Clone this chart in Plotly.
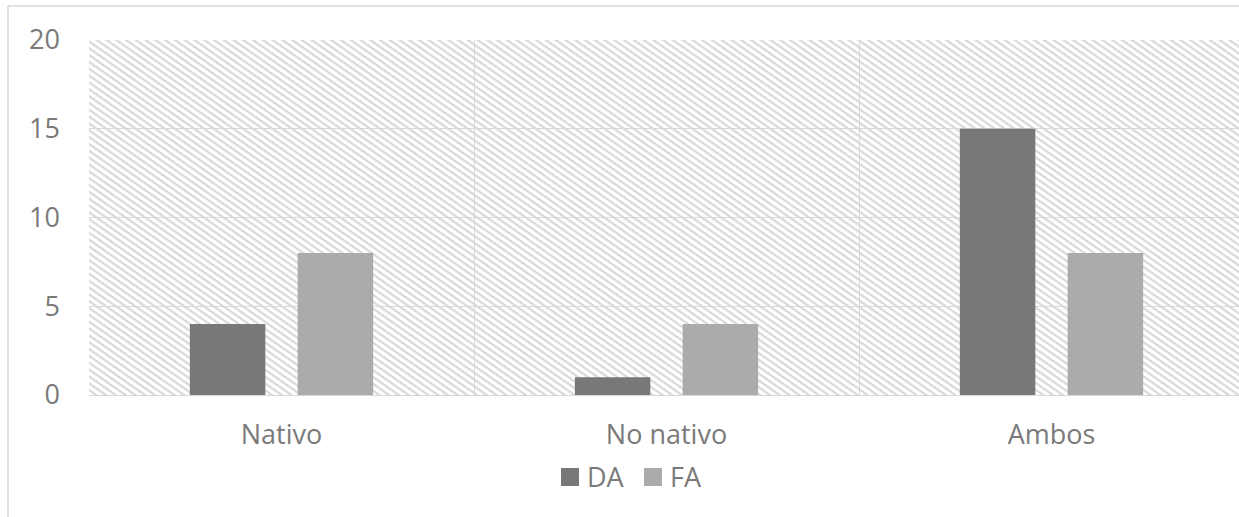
import base64
import plotly.graph_objects as go

# Data
categories = ["Nativo", "No nativo", "Ambos"]
series_names = ["DA", "FA"]
da_values = [4, 1, 15]
fa_values = [8, 4, 8]
y_ticks = [0, 5, 10, 15, 20]

colors = {"DA": "#787878", "FA": "#ababab"}
text_color = "#7a7a7a"
grid_color = "#d9d9d9"
font_family = "Open Sans, Noto Sans, sans-serif"

W, H = 1239, 517
ML, MT, MB = 89, 40, 122
plot_w = W - ML
plot_h = H - MT - MB

# Diagonal hatch used as the plot-area background
hatch_svg = (
    f'<svg xmlns="http://www.w3.org/2000/svg" width="{plot_w}" height="{plot_h}">'
    '<defs><pattern id="h" width="40" height="5.6" patternUnits="userSpaceOnUse" '
    'patternTransform="rotate(35)">'
    '<rect x="0" y="0" width="40" height="2.2" fill="#d8d8d8"/></pattern></defs>'
    '<rect width="100%" height="100%" fill="#ffffff"/>'
    '<rect width="100%" height="100%" fill="url(#h)"/></svg>'
)
hatch_uri = "data:image/svg+xml;base64," + base64.b64encode(hatch_svg.encode()).decode()

fig = go.Figure()
fig.add_trace(go.Bar(name="DA", x=categories, y=da_values,
                     marker=dict(color=colors["DA"], line=dict(width=0)),
                     showlegend=False))
fig.add_trace(go.Bar(name="FA", x=categories, y=fa_values,
                     marker=dict(color=colors["FA"], line=dict(width=0)),
                     showlegend=False))


def px_x(px):
    return (px - ML) / plot_w


def px_y(py):
    return (MT + plot_h - py) / plot_h


shapes = [
    # outer chart frame (top and left edges)
    dict(type="line", xref="paper", yref="paper", x0=px_x(8), x1=px_x(W + 5),
         y0=px_y(6), y1=px_y(6), line=dict(color=grid_color, width=1.5)),
    dict(type="line", xref="paper", yref="paper", x0=px_x(8), x1=px_x(8),
         y0=px_y(6), y1=px_y(H + 5), line=dict(color=grid_color, width=1.5)),
]
annotations = []

# Legend drawn as swatches + labels
legend_cy = 477
swatch = 18
legend_x = {"DA": 561, "FA": 644}
for name in series_names:
    x0 = legend_x[name]
    shapes.append(dict(type="rect", xref="paper", yref="paper",
                       x0=px_x(x0), x1=px_x(x0 + swatch),
                       y0=px_y(legend_cy - swatch / 2), y1=px_y(legend_cy + swatch / 2),
                       fillcolor=colors[name], line=dict(width=0)))
    annotations.append(dict(text=name, xref="paper", yref="paper",
                            x=px_x(x0 + swatch + 6), y=px_y(legend_cy),
                            xanchor="left", yanchor="middle", showarrow=False,
                            font=dict(size=27, color=text_color, family=font_family)))

fig.update_layout(
    width=W, height=H,
    margin=dict(l=ML, r=0, t=MT, b=MB, pad=0),
    paper_bgcolor="white", plot_bgcolor="white",
    barmode="group", bargap=0.44, bargroupgap=0.30,
    font=dict(family=font_family, size=27, color=text_color),
    showlegend=False,
    shapes=shapes, annotations=annotations,
    images=[dict(source=hatch_uri, xref="paper", yref="paper", x=0, y=1,
                 sizex=1, sizey=1, xanchor="left", yanchor="top",
                 sizing="stretch", layer="below")],
)
fig.update_xaxes(
    type="category", categoryorder="array", categoryarray=categories,
    range=[-0.5, 2.487], tickson="boundaries", showgrid=True,
    gridcolor=grid_color, gridwidth=1, ticks="", showline=False,
    ticklabelstandoff=21, tickfont=dict(size=27, color=text_color),
)
fig.update_yaxes(
    range=[0, 20], tickvals=y_ticks, showgrid=True, gridcolor=grid_color,
    gridwidth=1, zeroline=True, zerolinecolor=grid_color, zerolinewidth=1,
    showline=False, ticks="", ticklabelstandoff=28,
    tickfont=dict(size=27, color=text_color),
)

fig.write_html("out.html")
